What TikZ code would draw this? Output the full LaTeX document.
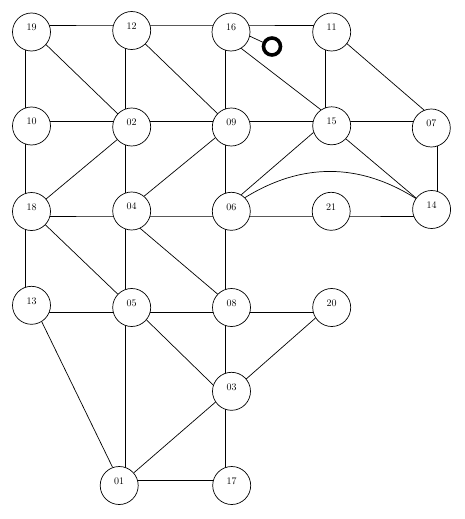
\documentclass[tikz,border=0pt]{standalone}
\usepackage{tikz}
\usetikzlibrary{backgrounds}

\begin{document}
\begin{tikzpicture}[
	x=1pt, y=-1pt,
	font=\normalsize,
	vert/.style={
		circle, draw=black, fill=white, line width=0.7pt,
		minimum size=38pt, inner sep=0pt, text depth=9pt
	},
	marker/.style={
		circle, draw=black, fill=white, line width=3.6pt,
		minimum size=17pt, inner sep=0pt
	},
	link/.style={draw=black, line width=0.7pt}
	]
	\useasboundingbox (0,0) rectangle (464,519);
	
	%% ─── POINTS WHERE THE LINKS MEET ────────────────────────────────────────
	\coordinate (v19) at (25.7,25);
	\coordinate (v12) at (125.7,25);
	\coordinate (v16) at (225.7,25);
	\coordinate (v11) at (325.3,25);
	\coordinate (v10) at (25.7,121.5);
	\coordinate (v02) at (125.7,121.5);
	\coordinate (v09) at (225.7,121.5);
	\coordinate (v15) at (325.3,121.5);
	\coordinate (v07) at (437.3,121.5);
	\coordinate (v18) at (25.7,216);
	\coordinate (v04) at (125.7,216);
	\coordinate (v06) at (225.7,216);
	\coordinate (v21) at (325.3,216);
	\coordinate (v14) at (437.3,216);
	\coordinate (v13) at (25.7,312.3);
	\coordinate (v05) at (125.7,312.3);
	\coordinate (v08) at (225.7,312.3);
	\coordinate (v20) at (325.3,312.3);
	\coordinate (v03) at (225.7,396);
	\coordinate (v01) at (125.7,480);
	\coordinate (v17) at (225.7,480);
	
	%% ─── VERTICES ───────────────────────────────────────────────────────────
	\node[vert] (n19) at (31.5,32) {19};
	\node[vert] (n12) at (131.7,30.5) {12};
	\node[vert] (n16) at (231,32) {16};
	\node[vert] (n11) at (331.7,32) {11};
	
	\node[vert] (n10) at (31.5,126) {10};
	\node[vert] (n02) at (131.7,127) {02};
	\node[vert] (n09) at (231.3,127) {09};
	\node[vert] (n15) at (331.7,125.8) {15};
	\node[vert] (n07) at (431.3,128) {07};
	
	\node[vert] (n18) at (31.5,211.5) {18};
	\node[vert] (n04) at (131.7,211) {04};
	\node[vert] (n06) at (231.3,211.3) {06};
	\node[vert] (n21) at (331.2,211.3) {21};
	\node[vert] (n14) at (431.6,209.5) {14};
	
	\node[vert] (n13) at (31.5,305.3) {13};
	\node[vert] (n05) at (131.7,307.5) {05};
	\node[vert] (n08) at (231.5,307.5) {08};
	\node[vert] (n20) at (331.7,307.5) {20};
	
	\node[vert] (n03) at (231.5,391.3) {03};
	\node[vert] (n01) at (119.2,485.5) {01};
	\node[vert] (n17) at (231.7,485.5) {17};
	
	\node[marker] (ring) at (272,46.5) {};
	
	%% ─── LINKS ──────────────────────────────────────────────────────────────
	\begin{scope}[on background layer]
		% rows
		\draw[link] (v19) -- (v12) -- (v16) -- (v11);
		\draw[link] (v10) -- (v02) -- (v09) -- (v15) -- (v07);
		\draw[link] (v18) -- (v04) -- (v06) -- (v21) -- (v14);
		\draw[link] (v13) -- (v05) -- (v08) -- (v20);
		\draw[link] (v01) -- (v17);
		% columns
		\draw[link] (v19) -- (v10) -- (v18) -- (v13);
		\draw[link] (v12) -- (v02) -- (v04) -- (v05) -- (v01);
		\draw[link] (v16) -- (v09) -- (v06) -- (v08) -- (v03) -- (v17);
		\draw[link] (v11) -- (v15);
		\draw[link] (v07) -- (v14);
		% diagonals
		\draw[link] (v19) -- (v02);
		\draw[link] (v12) -- (v09);
		\draw[link] (v11) -- (v07);
		\draw[link] (v15) -- (v14);
		\draw[link] (v16) -- (ring);
		\draw[link] (n16.302) -- (n15.124);
		\draw[link] (n02.221) -- (v18);
		\draw[link] (n09.214) -- (n04.50);
		\draw[link] (n15.200) -- (n06.59);
		\draw[link] (n06.45) to[bend left=32] (n14.145);
		\draw[link] (n18) -- (n05);
		\draw[link] (n04.296) -- (n08.136);
		\draw[link] (n05.320) -- (n03.161);
		\draw[link] (n20.213) -- (n03.40);
		\draw[link] (n01.41) -- (n03.214);
		\draw[link] (n13.302) -- (n01.110);
	\end{scope}
	
\end{tikzpicture}
\end{document}
